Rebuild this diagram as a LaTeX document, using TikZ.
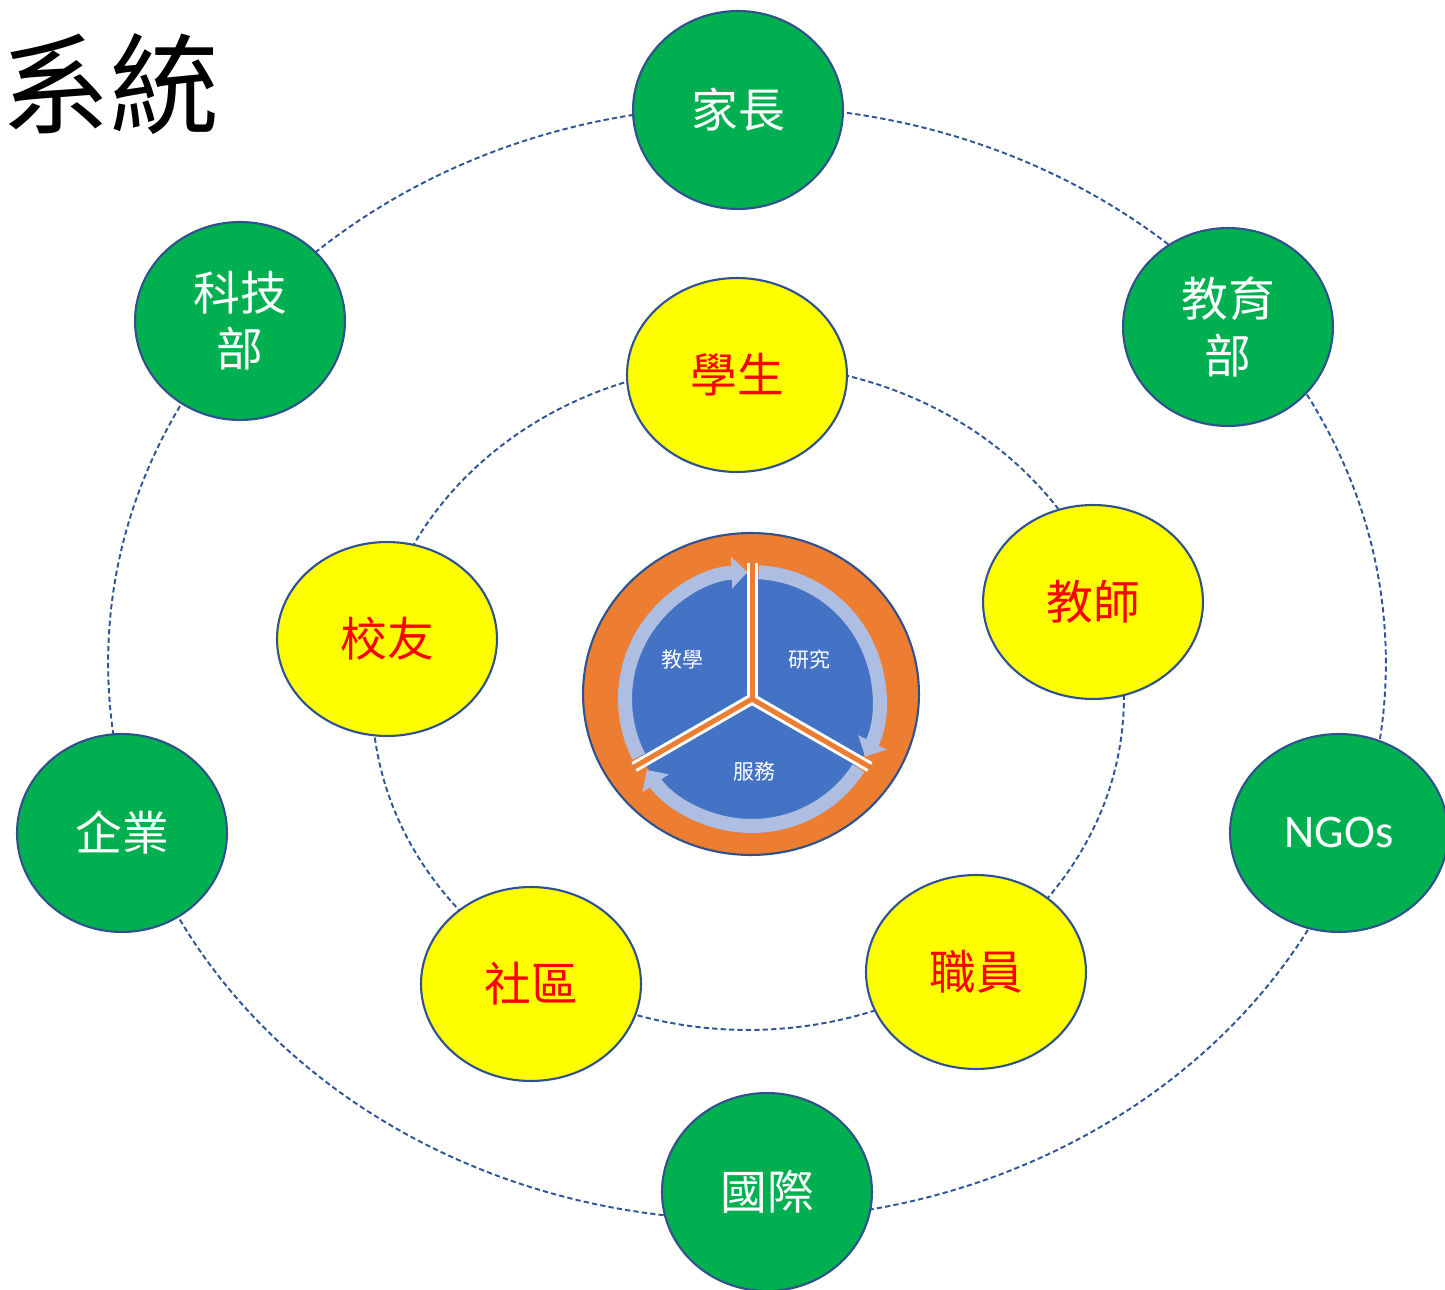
\documentclass[tikz,border=0pt]{standalone}
\usepackage{fontspec}
\usetikzlibrary{shapes.geometric,arrows.meta}
\newfontfamily\cjk{Noto Sans CJK TC}
\newfontfamily\carl{Carlito}
\definecolor{ngreen}{HTML}{00B050}
\definecolor{nyellow}{HTML}{FFFF00}
\definecolor{edgeblue}{HTML}{2F528F}
\definecolor{norange}{HTML}{ED7D31}
\definecolor{nblue}{HTML}{4472C4}
\definecolor{lblue}{HTML}{AEBEE2}
\definecolor{dashblue}{HTML}{2F5597}
\begin{document}
\begin{tikzpicture}[x=0.02cm,y=-0.02cm,
  ring/.style={draw=dashblue, line width=1.1pt, dash pattern=on 3pt off 1.8pt},
  greennode/.style={ellipse, fill=ngreen, draw=edgeblue, line width=1.2pt,
    minimum width=4.2cm, minimum height=3.96cm, inner sep=0pt, text=white,
    align=center, font=\cjk\fontsize{26.6}{32}\selectfont},
  yellownode/.style={ellipse, fill=nyellow, draw=edgeblue, line width=1.2pt,
    minimum width=4.4cm, minimum height=3.88cm, inner sep=0pt, text=red,
    align=center, font=\cjk\fontsize{26.6}{32}\selectfont},
  pietext/.style={text=white, font=\cjk\fontsize{11.9}{14}\selectfont},
  cyclearrow/.style={draw=lblue, line width=0.28cm, -{Triangle[length=0.32cm, width=0.62cm]}},
  sepwhite/.style={draw=white, line width=0.22cm},
  seporange/.style={draw=norange, line width=0.1cm}
]
\useasboundingbox (0,0) rectangle (1445,1290);

% title
\node[font=\cjk\fontsize{62}{62}\selectfont, inner sep=0pt, anchor=west] (title) at (1,84) {系統};

% orbit rings
\draw[ring] (747,663) ellipse [x radius=12.78cm, y radius=11.14cm];
\draw[ring] (748,697) ellipse [x radius=7.52cm, y radius=6.66cm];

% outer nodes
\node[greennode] (parents) at (738,110) {家長};
\node[greennode] (most) at (240,321) {科技\\部};
\node[greennode] (moe) at (1228,327) {教育\\部};
\node[greennode] (biz) at (122,833) {企業};
\node[greennode, minimum width=4.36cm, font=\carl\fontsize{26.6}{32}\selectfont] (ngo) at (1339,833) {NGOs};
\node[greennode] (intl) at (767,1192) {國際};

% inner nodes
\node[yellownode] (student) at (737,375) {學生};
\node[yellownode] (teacher) at (1093,602) {教師};
\node[yellownode] (alumni) at (387,639) {校友};
\node[yellownode] (community) at (531,984) {社區};
\node[yellownode] (staff) at (976,972) {職員};

% centre cycle
\draw[fill=norange, draw=edgeblue, line width=1.2pt] (751,694) ellipse [x radius=3.36cm, y radius=3.22cm];
\begin{scope}[shift={(752,699)}]
  \fill[nblue] (0,0) circle [radius=2.5cm];
  \draw[cyclearrow] (207:2.54cm) arc[start angle=207, end angle=92, radius=2.54cm];
  \draw[cyclearrow] (87:2.54cm) arc[start angle=87, end angle=-27, radius=2.54cm];
  \draw[cyclearrow] (-33:2.54cm) arc[start angle=-33, end angle=-146, radius=2.54cm];
  \draw[sepwhite] (0,0) -- (90:2.72cm);
  \draw[sepwhite] (0,0) -- (-30:2.72cm);
  \draw[sepwhite] (0,0) -- (210:2.72cm);
  \draw[seporange] (0,0) -- (90:2.8cm);
  \draw[seporange] (0,0) -- (-30:2.8cm);
  \draw[seporange] (0,0) -- (210:2.8cm);
\end{scope}
\node[pietext] (teach) at (682,660) {教學};
\node[pietext] (research) at (809,660) {研究};
\node[pietext] (service) at (754,772) {服務};
\end{tikzpicture}
\end{document}
